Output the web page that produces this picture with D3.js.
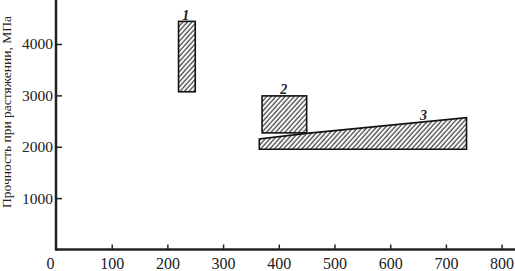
<!DOCTYPE html>
<html>
<head>
<meta charset="utf-8">
<script src="https://cdn.jsdelivr.net/npm/d3@7"></script>
<style>
  body { margin: 0; background: #fff; }
  text { font-family: "Liberation Serif", "DejaVu Serif", serif; fill: #222; }
</style>
</head>
<body>
<div id="chart"></div>
<script>
// data
var xTicks = [0, 100, 200, 300, 400, 500, 600, 700, 800];
var yTicks = [1000, 2000, 3000, 4000];
var yLabel = "Прочность при растяжении, МПа";

// regions 1 and 2 are boxes: [xMin, xMax, yMin, yMax]
var region1 = [220, 250, 3070, 4440];
var region2 = [370, 450, 2270, 2990];
// region 3 is a polygon: [x, y]
var region3 = [[365, 1950], [365, 2150], [450, 2260], [737, 2565], [737, 1950]];

var regionLabels = ["1", "2", "3"];
var labelPos = [[233, 4470], [409, 3027], [660, 2521]];

var width = 515, height = 271;

var svg = d3.select("#chart")
  .append("svg")
    .attr("width", width)
    .attr("height", height);

// hatch pattern
svg.append("defs")
  .append("pattern")
    .attr("id", "hatch")
    .attr("patternUnits", "userSpaceOnUse")
    .attr("width", 3.4)
    .attr("height", 10)
    .attr("patternTransform", "rotate(42)")
  .append("line")
    .attr("x1", 1).attr("y1", 0)
    .attr("x2", 1).attr("y2", 10)
    .attr("stroke", "#111")
    .attr("stroke-width", 1);

var x = d3.scaleLinear()
  .domain([0, 800])
  .range([56, 501.6]);

var y = d3.scaleLinear()
  .domain([0, 4000])
  .range([249.5, 44]);

// X axis
var xAxis = svg.append("g")
  .attr("transform", "translate(0," + y(0) + ")")
  .call(d3.axisBottom(x).tickValues(xTicks).tickFormat(d3.format("d"))
    .tickSize(-5).tickSizeOuter(0).tickPadding(8));
xAxis.select(".domain").remove();
xAxis.selectAll(".tick line").attr("stroke", "#222").attr("stroke-width", 1.5);
xAxis.selectAll(".tick").filter(function(d) { return d === 0; }).select("line").remove();
xAxis.selectAll("text")
  .style("font-size", "16px")
  .attr("dy", "0.71em")
  .attr("dx", function(d) { return d === 0 ? -6 : 0; });

// Y axis
var yAxis = svg.append("g")
  .attr("transform", "translate(" + x(0) + ",0)")
  .call(d3.axisLeft(y).tickValues(yTicks).tickFormat(d3.format("d"))
    .tickSize(-6).tickSizeOuter(0).tickPadding(3));
yAxis.select(".domain").remove();
yAxis.selectAll(".tick line").attr("stroke", "#222").attr("stroke-width", 1.5);
yAxis.selectAll("text").style("font-size", "15.5px");

// axis lines
svg.append("line")
  .attr("x1", x(0)).attr("x2", width)
  .attr("y1", y(0)).attr("y2", y(0))
  .attr("stroke", "#222").attr("stroke-width", 2.5);
svg.append("line")
  .attr("x1", x(0)).attr("x2", x(0))
  .attr("y1", 0).attr("y2", y(0) + 1.2)
  .attr("stroke", "#222").attr("stroke-width", 2.5);

// y label
svg.append("text")
  .attr("transform", "translate(11," + 112 + ")rotate(-90)")
  .attr("text-anchor", "middle")
  .style("font-size", "13.5px")
  .text(yLabel);

// boxes
[region1, region2].forEach(function(r) {
  svg.append("rect")
    .attr("x", x(r[0]))
    .attr("y", y(r[3]))
    .attr("width", x(r[1]) - x(r[0]))
    .attr("height", y(r[2]) - y(r[3]))
    .attr("fill", "url(#hatch)")
    .attr("stroke", "#111")
    .attr("stroke-width", 1.6);
});

// polygon
svg.append("path")
  .datum(region3)
  .attr("d", d3.line()
    .x(function(d) { return x(d[0]); })
    .y(function(d) { return y(d[1]); })
    .curve(d3.curveLinearClosed))
  .attr("fill", "url(#hatch)")
  .attr("stroke", "#111")
  .attr("stroke-width", 1.6);

// region labels
svg.selectAll("mylabel")
  .data(regionLabels)
  .enter()
  .append("text")
    .attr("x", function(d, i) { return x(labelPos[i][0]); })
    .attr("y", function(d, i) { return y(labelPos[i][1]); })
    .attr("text-anchor", "middle")
    .style("font-size", "14px")
    .style("font-style", "italic")
    .style("font-weight", "bold")
    .text(function(d) { return d; });
</script>
</body>
</html>
